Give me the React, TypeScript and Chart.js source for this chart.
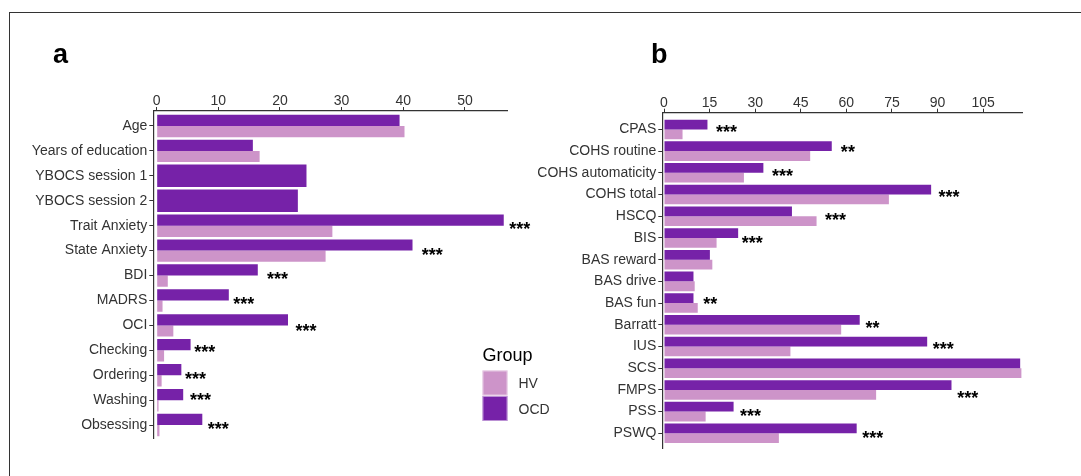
import React, { useEffect, useRef } from 'react';
import { Chart, registerables } from 'chart.js';

Chart.register(...registerables);

const FONT = '"Liberation Sans", Arial, Helvetica, sans-serif';
const OCD_COLOR = '#7622A8';
const HV_COLOR = '#CD94C9';
const TEXT_COLOR = '#333333';

// Panel a
const labelsA = ['Age', 'Years of education', 'YBOCS session 1', 'YBOCS session 2', 'Trait Anxiety', 'State Anxiety', 'BDI', 'MADRS', 'OCI', 'Checking', 'Ordering', 'Washing', 'Obsessing'];
const hvA = [40.2, 16.7, null, null, 28.5, 27.4, 1.8, 0.95, 2.7, 1.2, 0.8, 0.3, 0.45];
const ocdA = [39.4, 15.6, 24.3, 22.9, 56.3, 41.5, 16.4, 11.7, 21.3, 5.5, 4.0, 4.3, 7.4];
const sigA = ['', '', '', '', '***', '***', '***', '***', '***', '***', '***', '***', '***'];
const sigXA = [0, 0, 0, 0, 57.2, 43.0, 17.9, 12.4, 22.5, 6.1, 4.6, 5.4, 8.3];
const sigYA = [0, 1, 2, 3, 4.04, 5.11, 6.07, 7.05, 8.14, 9.0, 10.06, 10.93, 12.07];
const xTicksA = [0, 10, 20, 30, 40, 50];

// Panel b
const labelsB = ['CPAS', 'COHS routine', 'COHS automaticity', 'COHS total', 'HSCQ', 'BIS', 'BAS reward', 'BAS drive', 'BAS fun', 'Barratt', 'IUS', 'SCS', 'FMPS', 'PSS', 'PSWQ'];
const hvB = [6.1, 48.1, 26.3, 74.0, 50.2, 17.3, 15.9, 10.1, 11.1, 58.3, 41.6, 117.6, 69.8, 13.7, 37.8];
const ocdB = [14.3, 55.2, 32.7, 87.9, 42.1, 24.4, 15.1, 9.7, 9.7, 64.4, 86.6, 117.2, 94.6, 22.9, 63.4];
const sigB = ['***', '**', '***', '***', '***', '***', '', '', '**', '**', '***', '', '***', '***', '***'];
const sigXB = [17.1, 58.2, 35.5, 90.3, 53.0, 25.6, 0, 0, 12.9, 66.3, 88.4, 0, 96.5, 25.0, 65.2];
const sigYB = [0.03, 0.95, 2.07, 3.03, 4.07, 5.14, 6, 7, 7.94, 9.06, 10.01, 11, 12.29, 13.12, 14.12];
const xTicksB = [0, 15, 30, 45, 60, 75, 90, 105];

const groups = ['HV', 'OCD'];
const groupColors = [HV_COLOR, OCD_COLOR];

type PanelCfg = {
  letter: string;
  letterX: number;
  labels: string[];
  hv: (number | null)[];
  ocd: number[];
  sig: string[];
  sigX: number[];
  sigY: number[];
  xTicks: number[];
  xMin: number;
  xMax: number;
  yMin: number;
  yMax: number;
  left: number;
  right: number;
  top: number;
  bottom: number;
  padLeft: number;
  legend: boolean;
};

const W = 1081;
const H = 476;

function makeChart(canvas: HTMLCanvasElement, p: PanelCfg) {
  const annot = {
    id: 'annot' + p.letter,
    afterDraw(chart: any) {
      const ctx = chart.ctx as CanvasRenderingContext2D;
      const xs = chart.scales.x;
      const ys = chart.scales.y;
      ctx.save();
      // significance stars
      ctx.fillStyle = '#000';
      ctx.font = `bold 18px ${FONT}`;
      ctx.textAlign = 'left';
      ctx.textBaseline = 'alphabetic';
      p.sig.forEach((s, i) => {
        if (!s) return;
        const x = xs.getPixelForValue(p.sigX[i]);
        const y = ys.getPixelForValue(p.sigY[i]);
        ctx.fillText(s, x, y + 8);
      });
      // panel letter
      ctx.font = `bold 27px ${FONT}`;
      ctx.fillText(p.letter, p.letterX, 63);
      // legend
      if (p.legend) {
        ctx.fillStyle = '#000';
        ctx.font = `18px ${FONT}`;
        ctx.fillText('Group', 482.5, 361);
        groups.forEach((g, i) => {
          const y0 = 370.5 + i * 25.5;
          ctx.fillStyle = groupColors[i];
          ctx.fillRect(482.5, y0, 25, 25);
          ctx.strokeStyle = 'rgba(255,255,255,0.5)';
          ctx.lineWidth = 1;
          ctx.strokeRect(483, y0 + 0.5, 24, 24);
          ctx.fillStyle = TEXT_COLOR;
          ctx.font = `14px ${FONT}`;
          ctx.fillText(g, 518.5, y0 + 12.5 + 5);
        });
      }
      ctx.restore();
    },
  };

  const tickFont = { family: FONT, size: 14 };
  return new Chart(canvas, {
    type: 'bar',
    data: {
      datasets: [
        {
          label: 'OCD',
          data: p.ocd.map((v, i) => ({ x: v, y: i })),
          backgroundColor: OCD_COLOR,
          borderWidth: 0,
          categoryPercentage: 0.9,
          barPercentage: 1,
          skipNull: true,
        },
        {
          label: 'HV',
          data: p.hv.map((v, i) => ({ x: v, y: i })),
          backgroundColor: HV_COLOR,
          borderWidth: 0,
          categoryPercentage: 0.9,
          barPercentage: 1,
          skipNull: true,
        },
      ],
    },
    options: {
      indexAxis: 'y',
      animation: false,
      responsive: false,
      maintainAspectRatio: false,
      layout: { padding: { left: p.padLeft, right: W - p.right, top: 0, bottom: H - p.bottom } },
      plugins: { legend: { display: false }, tooltip: { enabled: false } },
      scales: {
        x: {
          type: 'linear',
          position: 'top',
          min: p.xMin,
          max: p.xMax,
          afterBuildTicks: (s: any) => {
            s.ticks = p.xTicks.map((v) => ({ value: v }));
          },
          afterFit: (s: any) => {
            s.height = p.top;
          },
          grid: { display: true, drawOnChartArea: false, drawTicks: true, tickLength: 4, tickColor: TEXT_COLOR, tickWidth: 1, offset: false },
          border: { display: true, color: TEXT_COLOR, width: 1.2 },
          ticks: { font: tickFont, color: TEXT_COLOR, padding: -3, maxRotation: 0, autoSkip: false },
        },
        y: {
          type: 'linear',
          reverse: true,
          offset: false,
          min: p.yMin,
          max: p.yMax,
          afterBuildTicks: (s: any) => {
            s.ticks = p.labels.map((_, i) => ({ value: i }));
          },
          afterFit: (s: any) => {
            s.width = p.left - p.padLeft;
          },
          grid: { display: true, drawOnChartArea: false, drawTicks: true, tickLength: 4, tickColor: TEXT_COLOR, tickWidth: 1, offset: false },
          border: { display: true, color: TEXT_COLOR, width: 1.2 },
          ticks: {
            font: tickFont,
            color: TEXT_COLOR,
            padding: 2,
            autoSkip: false,
            callback: (v: any) => p.labels[Math.round(Number(v))] ?? '',
          },
        },
      },
    },
    plugins: [annot],
  } as any);
}

const panelA: PanelCfg = {
  letter: 'a', letterX: 53, labels: labelsA, hv: hvA, ocd: ocdA, sig: sigA, sigX: sigXA, sigY: sigYA,
  xTicks: xTicksA, xMin: -0.55, xMax: 56.86, yMin: -0.6, yMax: 12.53,
  left: 153.3, right: 507.2, top: 111, bottom: 438.3, padLeft: 0, legend: true,
};

const panelB: PanelCfg = {
  letter: 'b', letterX: 651, labels: labelsB, hv: hvB, ocd: ocdB, sig: sigB, sigX: sigXB, sigY: sigYB,
  xTicks: xTicksB, xMin: -0.56, xMax: 117.8, yMin: -0.77, yMax: 14.69,
  left: 662.3, right: 1022, top: 112.7, bottom: 448.3, padLeft: 520, legend: false,
};

export default function App() {
  const refA = useRef<HTMLCanvasElement>(null);
  const refB = useRef<HTMLCanvasElement>(null);

  useEffect(() => {
    Chart.defaults.font.family = FONT;
    const a = makeChart(refA.current!, panelA);
    const b = makeChart(refB.current!, panelB);
    return () => {
      a.destroy();
      b.destroy();
    };
  }, []);

  const canvasStyle: React.CSSProperties = { position: 'absolute', left: 0, top: 0, width: W, height: H };
  return (
    <div style={{ position: 'fixed', left: 0, top: 0, width: W, height: H, background: '#fff', overflow: 'hidden' }}>
      <div
        style={{
          position: 'absolute', left: 9, top: 12, width: W - 9, height: H - 12,
          borderTop: '1px solid #333', borderLeft: '1px solid #333', boxSizing: 'border-box',
        }}
      />
      <canvas ref={refA} width={W} height={H} style={canvasStyle} />
      <canvas ref={refB} width={W} height={H} style={canvasStyle} />
    </div>
  );
}
